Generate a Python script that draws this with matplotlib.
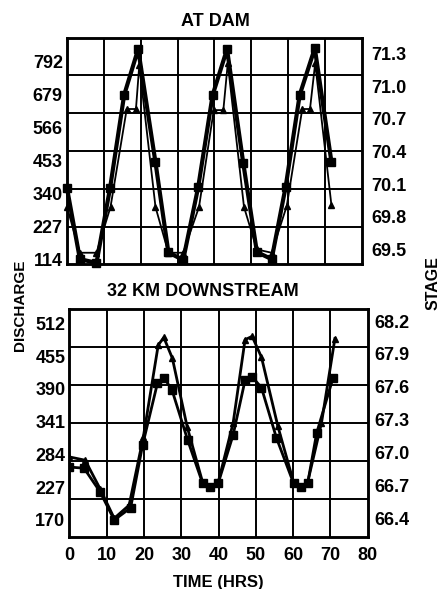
import matplotlib
matplotlib.use("Agg")
import numpy as np
import matplotlib.pyplot as plt

plt.rcParams['font.family'] = ['Liberation Sans', 'DejaVu Sans']
plt.rcParams['font.weight'] = 'bold'
plt.rcParams['axes.labelweight'] = 'bold'
NARROW = ['Liberation Sans Narrow', 'Liberation Sans', 'DejaVu Sans']

# At the dam: discharge (squares) and stage (triangles)
dam_hours_q = [0, 3.5, 8, 11.7, 15.5, 19.3, 24, 27.5, 31.5, 35.6, 39.5, 43.4,
               47.8, 51.5, 55.5, 59.3, 63.1, 67.2, 71.7]
dam_discharge = [360, 117, 104, 362, 679, 836, 448, 140, 114, 365, 679, 836,
                 446, 141, 117, 365, 679, 839, 451]
dam_hours_s = [0, 3.5, 8, 11.8, 16.2, 18.7, 19.6, 24, 27.5, 31.5, 35.8, 39.8,
               42.4, 43.6, 48, 51.5, 55.5, 59.6, 63.8, 65.9, 67.3, 71.7]
dam_stage = [69.89, 69.47, 69.47, 69.89, 70.79, 70.79, 71.19, 69.89, 69.47,
             69.47, 69.89, 70.78, 70.78, 71.21, 69.89, 69.50, 69.47, 69.90,
             70.79, 70.79, 71.21, 69.91]

# 32 km downstream
down_hours_q = [0, 3.9, 8.2, 12, 16.4, 19.6, 23.6, 25.4, 27.5, 31.7, 35.7,
                37.8, 39.9, 43.9, 47.1, 49, 51.5, 55.5, 60.1, 62, 63.9, 66.3, 70.7]
down_discharge = [262, 260, 219, 170, 191, 300, 408, 417, 396, 309, 234,
                  227, 234, 318, 413, 419, 400, 313, 234, 227, 234, 321, 417]
down_hours_s = [0, 4.2, 8.2, 12, 16, 19.8, 23.8, 25.3, 27.6, 31.6, 35.7,
                37.8, 39.9, 43.9, 47.1, 49, 51.5, 55.9, 60.1, 62, 63.9, 67.6, 71.2]
down_stage = [66.96, 66.93, 66.67, 66.40, 66.52, 67.14, 67.98, 68.05, 67.86,
              67.23, 66.73, 66.69, 66.73, 67.27, 68.03, 68.06, 67.87, 67.24,
              66.73, 66.69, 66.73, 67.27, 68.04]

dam_q_ticks = [114, 227, 340, 453, 566, 679, 792]
dam_s_ticks = [69.5, 69.8, 70.1, 70.4, 70.7, 71.0, 71.3]
down_q_labels = ['170', '227', '284', '341', '390', '455', '512']
down_q_ticks = [170 + 57 * i for i in range(7)]
down_s_ticks = [66.4, 66.7, 67.0, 67.3, 67.6, 67.9, 68.2]


def style_panel(ax, axr, qlim, slim, q_ticks, q_labels, s_ticks, rpad):
    ax.set_xlim(0, 80)
    ax.set_ylim(*qlim)
    axr.set_ylim(*slim)
    for x in range(10, 80, 10):
        ax.axvline(x, color='black', lw=1.4, zorder=1)
    for y in np.linspace(qlim[0], qlim[1], 7)[1:-1]:
        ax.axhline(y, color='black', lw=1.4, zorder=1)
    ax.set_yticks(q_ticks, q_labels)
    axr.set_yticks(s_ticks, ['%.1f' % v for v in s_ticks])
    ax.tick_params(axis='y', length=0, pad=3, labelsize=13)
    axr.tick_params(axis='y', length=0, pad=rpad, labelsize=13)
    for a in (ax, axr):
        for sp in a.spines.values():
            sp.set_linewidth(1.8)


fig = plt.figure(figsize=(4.39, 5.89), dpi=100)

# top panel
ax1 = fig.add_axes([0.1526, 0.5513, 0.672, 0.3847])
ax1r = ax1.twinx()
style_panel(ax1, ax1r, (99.3, 875.2), (69.364, 71.445),
            dam_q_ticks, [str(v) for v in dam_q_ticks], dam_s_ticks, 7)
ax1.set_xticks([])
ax1.plot(dam_hours_q, dam_discharge, color='black', lw=3.0, marker='s',
         ms=6, zorder=3, clip_on=False)
ax1r.plot(dam_hours_s, dam_stage, color='black', lw=1.3, marker='^',
          ms=5, zorder=3, clip_on=False)
ax1.text(0.502, 1.071, 'AT DAM', transform=ax1.transAxes, ha='center',
         va='center', fontsize=13)

# bottom panel
ax2 = fig.add_axes([0.1583, 0.0878, 0.6793, 0.3871])
ax2r = ax2.twinx()
style_panel(ax2, ax2r, (139.9, 536.3), (66.227, 68.307),
            down_q_ticks, down_q_labels, down_s_ticks, 5)
ax2.set_xticks(range(0, 81, 10))
ax2.tick_params(axis='x', length=0, pad=7, labelsize=13)
for lab in ax2.get_xticklabels():
    lab.set_fontfamily(NARROW)
ax2.plot(down_hours_q, down_discharge, color='black', lw=2.0, marker='s',
         ms=5.5, zorder=3)
ax2r.plot(down_hours_s, down_stage, color='black', lw=2.0, marker='^',
          ms=5, zorder=3)
ax2.text(0.446, 1.077, '32 KM DOWNSTREAM', transform=ax2.transAxes,
         ha='center', va='center', fontsize=13)
ax2.set_xlabel('TIME (HRS)', fontsize=12, family=NARROW, fontweight='bold',
               labelpad=8)

fig.text(0.046, 0.482, 'DISCHARGE', rotation=90, ha='center', va='center',
         fontsize=11, family=NARROW)
fig.text(0.986, 0.52, 'STAGE', rotation=90, ha='center', va='center',
         fontsize=11.5, family=NARROW)

fig.savefig('out.png', dpi=100)
